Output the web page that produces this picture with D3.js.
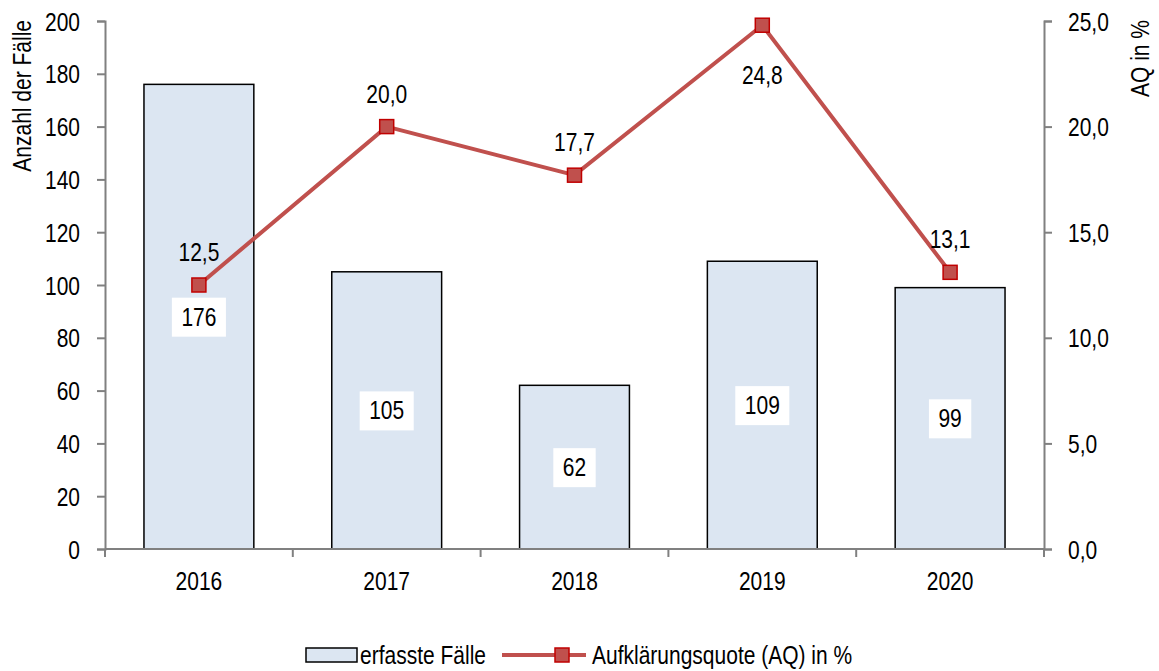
<!DOCTYPE html>
<html>
<head>
<meta charset="utf-8">
<script src="https://cdn.jsdelivr.net/npm/d3@7"></script>
<style>
  body { margin: 0; background: #fff; }
  text { font-family: "Liberation Sans", Arial, sans-serif; font-weight: 400; fill: #000; }
</style>
</head>
<body>
<div id="viz"></div>
<script>
var years = ['2016', '2017', '2018', '2019', '2020'];
var cases = [176, 105, 62, 109, 99];
var quote = [12.5, 20.0, 17.7, 24.8, 13.1];
var leftTicks = [0, 20, 40, 60, 80, 100, 120, 140, 160, 180, 200];
var rightTicks = [0, 5, 10, 15, 20, 25];

var width = 1159, height = 671;
var margin = {top: 21, right: 115, bottom: 122, left: 105};
var fontSize = 25;
var squeeze = 0.84; // no Arial Narrow here, so squeeze Liberation Sans
var fmt = function(v) { return v.toFixed(1).replace('.', ','); };

var svg = d3.select('#viz').append('svg')
  .attr('width', width)
  .attr('height', height);

// writes a narrow text at x,y
function label(parent, x, y, str, anchor, rot) {
  return parent.append('text')
    .attr('transform', 'translate(' + x + ',' + y + ')' + (rot ? ' rotate(' + rot + ')' : '') + ' scale(' + squeeze + ',1)')
    .attr('text-anchor', anchor || 'start')
    .style('font-size', fontSize + 'px')
    .text(str);
}

var xScale = d3.scaleBand().domain(years)
  .range([margin.left, width - margin.right]);
var yLeft = d3.scaleLinear().domain([0, 200])
  .range([height - margin.bottom, margin.top]);
var yRight = d3.scaleLinear().domain([0, 25])
  .range([height - margin.bottom, margin.top]);
var cx = function(i) { return xScale(years[i]) + xScale.bandwidth() / 2; };

var barW = xScale.bandwidth() * 0.585;

// bars
svg.append('g').selectAll('rect').data(cases)
  .enter().append('rect')
  .attr('x', function(d, i) { return cx(i) - barW / 2; })
  .attr('y', function(d) { return yLeft(d); })
  .attr('width', barW)
  .attr('height', function(d) { return yLeft(0) - yLeft(d); })
  .attr('fill', '#DCE6F2')
  .attr('stroke', '#000')
  .attr('stroke-width', 1.5);

// axes
function styleAxis(g) {
  g.selectAll('path, line').attr('stroke', '#808080').attr('stroke-width', 2);
  g.selectAll('text')
    .style('font-size', fontSize + 'px')
    .style('font-family', '"Liberation Sans", Arial, sans-serif')
    .attr('dy', '0.36em')
    .attr('transform', function() { return 'translate(' + d3.select(this).attr('x') + ',0) scale(' + squeeze + ',1)'; })
    .attr('x', 0);
}

var leftAxis = svg.append('g')
  .attr('transform', 'translate(' + margin.left + ',0)')
  .call(d3.axisLeft(yLeft).tickValues(leftTicks).tickSize(8).tickSizeOuter(8).tickPadding(17));
styleAxis(leftAxis);

var rightAxis = svg.append('g')
  .attr('transform', 'translate(' + (width - margin.right) + ',0)')
  .call(d3.axisRight(yRight).tickValues(rightTicks).tickFormat(fmt).tickSize(8).tickSizeOuter(8).tickPadding(16));
styleAxis(rightAxis);

var xTickPos = d3.range(years.length + 1).map(function(i) { return margin.left + i * xScale.step(); });
var xAxis = svg.append('g')
  .attr('transform', 'translate(0,' + (height - margin.bottom) + ')');
xAxis.append('line')
  .attr('x1', margin.left).attr('x2', width - margin.right)
  .attr('y1', 0).attr('y2', 0);
xAxis.selectAll('.tk').data(xTickPos).enter().append('line')
  .attr('class', 'tk')
  .attr('x1', function(d) { return d; }).attr('x2', function(d) { return d; })
  .attr('y1', 0).attr('y2', 8);
xAxis.selectAll('path, line').attr('stroke', '#808080').attr('stroke-width', 2);
years.forEach(function(y, i) { label(xAxis, cx(i), 41, y, 'middle'); });

// bar value labels with white boxes
var barLabels = svg.append('g');
cases.forEach(function(d, i) {
  var g = barLabels.append('g')
    .attr('transform', 'translate(' + cx(i) + ',' + yLeft(d / 2) + ')');
  var box = g.append('rect').attr('fill', '#fff');
  var t = label(g, 0, 0, d, 'middle').attr('dy', '0.36em');
  var w = t.node().getBBox().width * squeeze + 19;
  box.attr('x', -w / 2).attr('y', -19).attr('width', w).attr('height', 39);
});

// line
var line = d3.line()
  .x(function(d, i) { return cx(i); })
  .y(function(d) { return yRight(d); });

svg.append('path')
  .datum(quote)
  .attr('d', line)
  .attr('fill', 'none')
  .attr('stroke', '#C0504D')
  .attr('stroke-width', 4);

svg.append('g').selectAll('rect').data(quote).enter().append('rect')
  .attr('x', function(d, i) { return cx(i) - 7; })
  .attr('y', function(d) { return yRight(d) - 7; })
  .attr('width', 14).attr('height', 14)
  .attr('fill', '#C0504D')
  .attr('stroke', '#C00000')
  .attr('stroke-width', 1.5);

var lineLabels = svg.append('g');
quote.forEach(function(d, i) {
  var y = i === 3 ? yRight(d) + 59 : yRight(d) - 24;
  label(lineLabels, cx(i), y, fmt(d), 'middle');
});

// axis titles
label(svg, 31, 20, 'Anzahl der Fälle', 'end', -90);
label(svg, 1149, 20, 'AQ in %', 'end', -90);

// legend
var legend = svg.append('g').attr('transform', 'translate(0,655)');
legend.append('rect')
  .attr('x', 306).attr('y', -7).attr('width', 51).attr('height', 14)
  .attr('fill', '#DCE6F2').attr('stroke', '#000').attr('stroke-width', 1.5);
label(legend, 360, 0, 'erfasste Fälle').attr('dy', '0.36em');
legend.append('line')
  .attr('x1', 502).attr('x2', 586).attr('y1', 0).attr('y2', 0)
  .attr('stroke', '#C0504D').attr('stroke-width', 4);
legend.append('rect')
  .attr('x', 555).attr('y', -7).attr('width', 14).attr('height', 14)
  .attr('fill', '#C0504D').attr('stroke', '#C00000').attr('stroke-width', 1.5);
label(legend, 592, 0, 'Aufklärungsquote (AQ) in %').attr('dy', '0.36em');
</script>
</body>
</html>
